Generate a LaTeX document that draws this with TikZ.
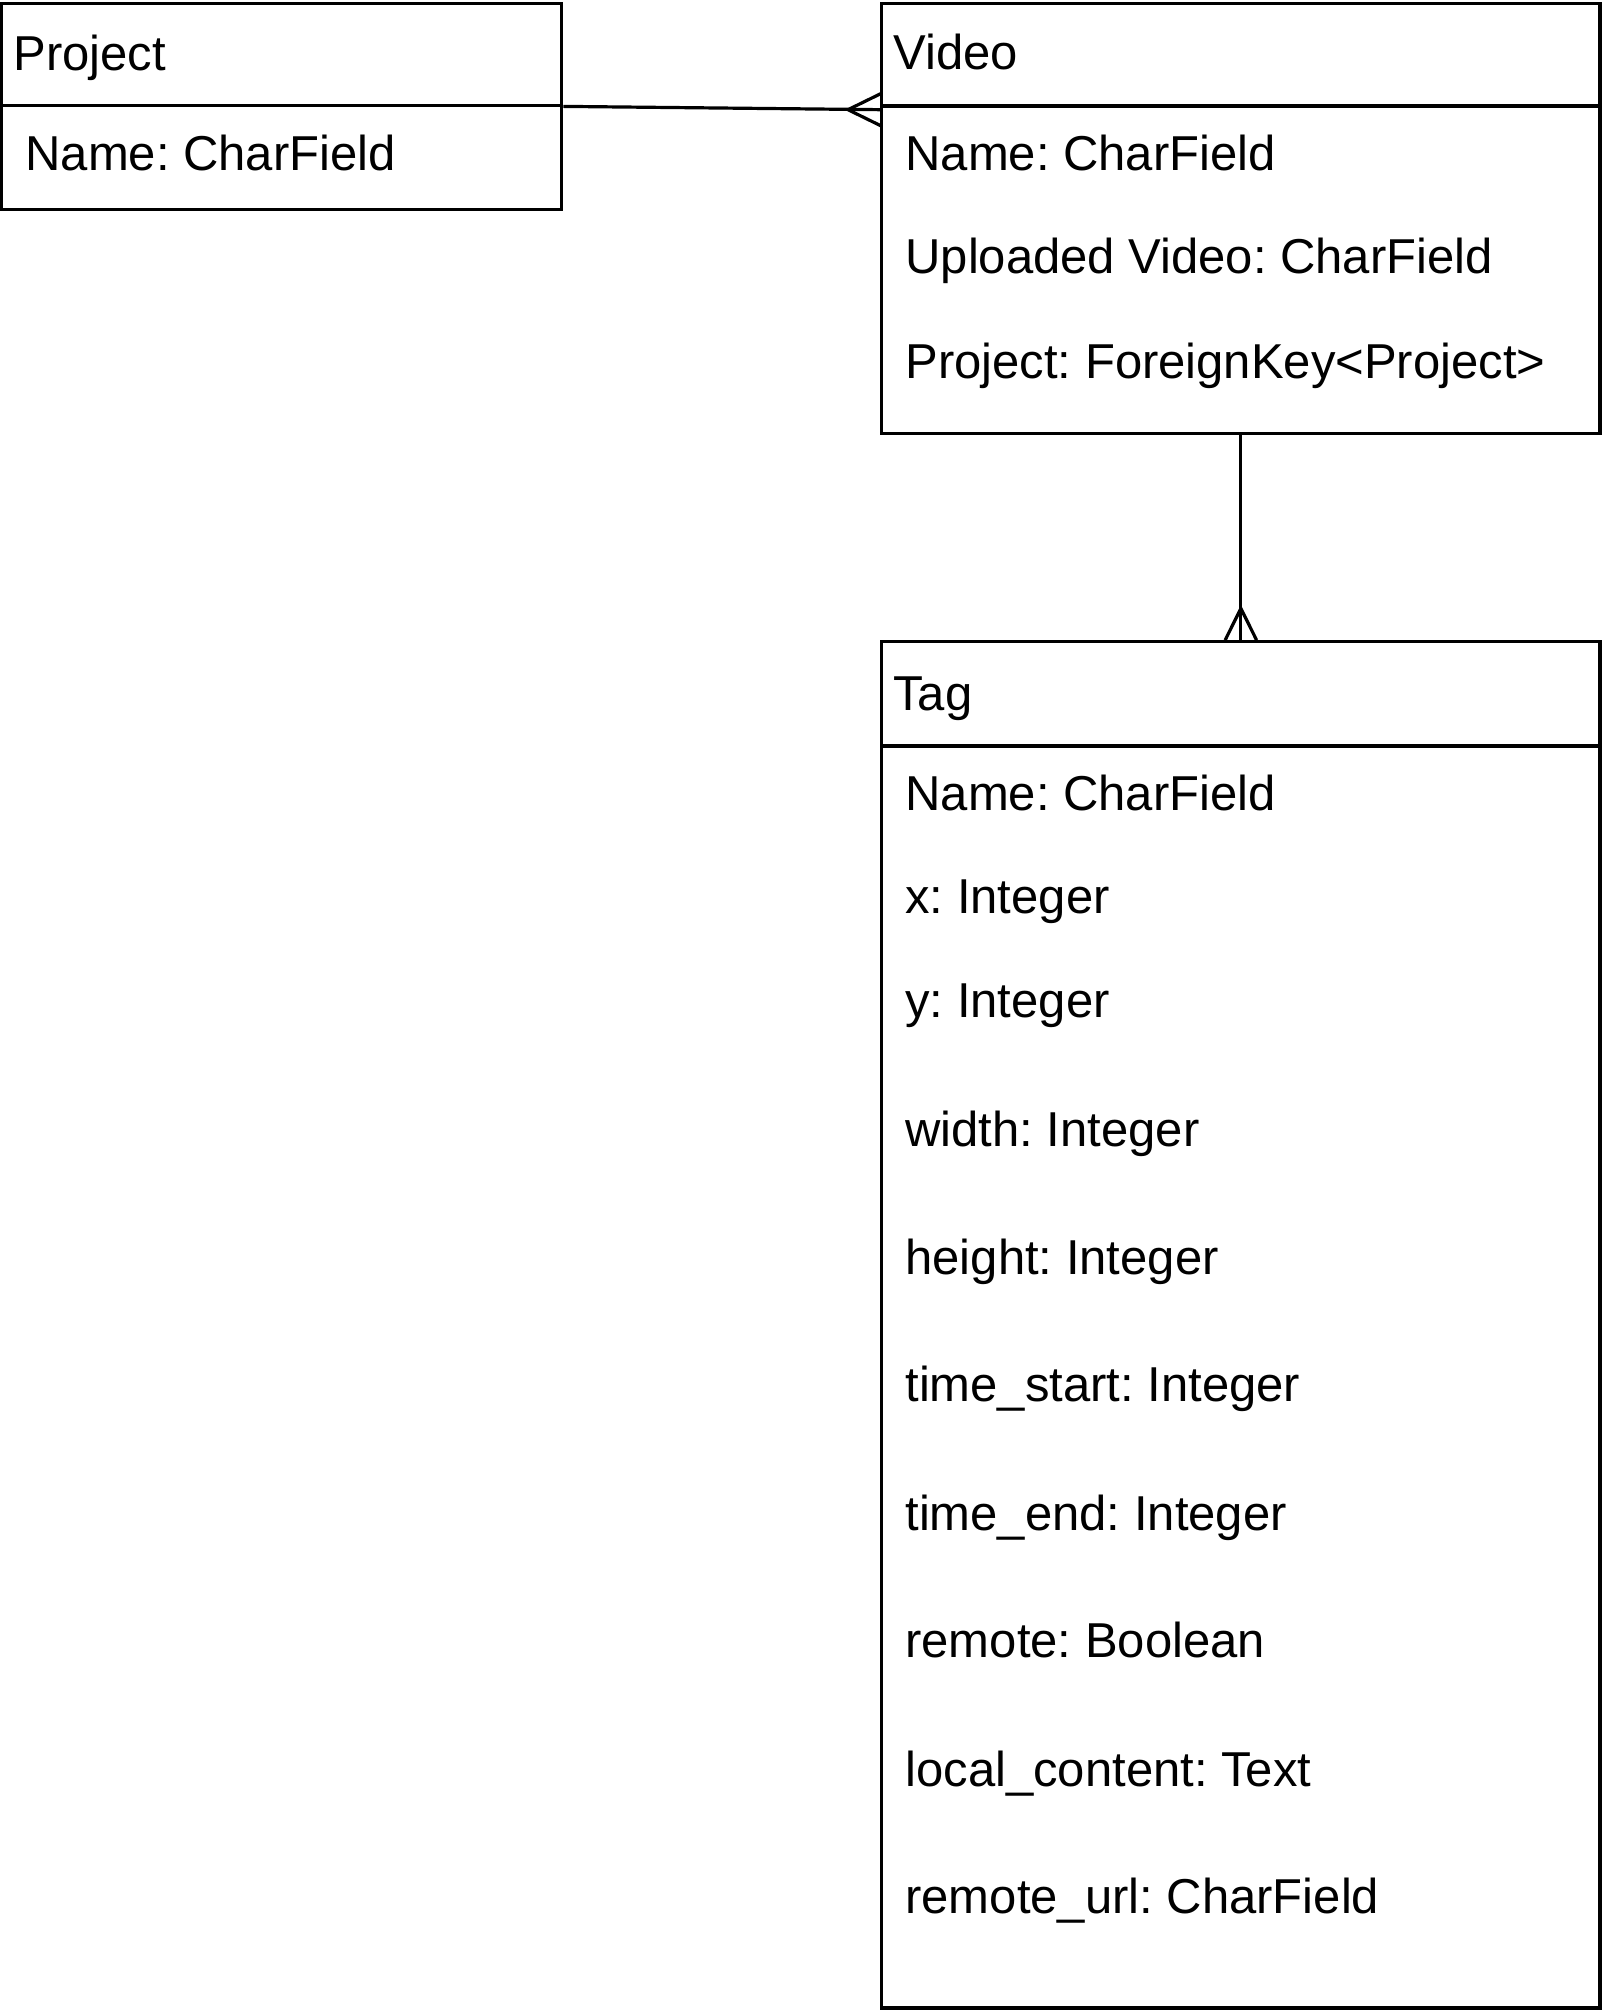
\documentclass[tikz,border=0pt]{standalone}
\usepackage{fontspec}
\setmainfont{Liberation Sans}
\usetikzlibrary{fit,calc}
\begin{document}
\frenchspacing
\begin{tikzpicture}[x=0.5pt,y=-0.5pt,
  box/.style={draw=black,line width=1.6pt,inner sep=0pt},
  conn/.style={draw=black,line width=1.6pt},
  divline/.style={draw=black,line width=1.6pt},
  lbl/.style={anchor=base west,inner sep=0pt,font=\fontsize{24.5pt}{29pt}\selectfont}]
\useasboundingbox (0,0) rectangle (1604,2016);
% boxes
\node[box,fit={(1.5,3.5) (561.7,209.3)}] (project) {};
\node[box,fit={(881.7,3.5) (1600,433.3)}] (video) {};
\node[box,fit={(881.7,641.7) (1600,2008)}] (tag) {};
% dividers
\draw[divline] (1.5,105.5) -- (561.7,105.5);
\draw[divline] (881.7,106) -- (1600,106);
\draw[divline] (881.7,746) -- (1600,746);
% texts
\node[lbl] (pt) at (13,71) {Project};
\node[lbl] (pf1) at (25,170.7) {Name: CharField};
\node[lbl] (vt) at (893,70) {Video};
\node[lbl] (vf1) at (905,170.7) {Name: CharField};
\node[lbl] (vf2) at (905,274) {Uploaded Video: CharField};
\node[lbl] (vf3) at (905,378.3) {Project: ForeignKey<Project>};
\node[lbl] (tt) at (893,710) {Tag};
\node[lbl] (tf1) at (905,810) {Name: CharField};
\node[lbl] (tf2) at (905,913.3) {x: Integer};
\node[lbl] (tf3) at (905,1017.7) {y: Integer};
\node[lbl] (tf4) at (905,1146) {width: Integer};
\node[lbl] (tf5) at (905,1274) {height: Integer};
\node[lbl] (tf6) at (905,1401.6) {time\_start: Integer};
\node[lbl] (tf7) at (905,1530) {time\_end: Integer};
\node[lbl] (tf8) at (905,1657) {remote: Boolean};
\node[lbl] (tf9) at (905,1786) {local\_content: Text};
\node[lbl] (tf10) at (905,1913) {remote\_url: CharField};
% connectors
\coordinate (vin) at (881.7,109.7);
\draw[conn] (project.east) -- (vin);
\draw[conn] ($(vin)+(0,-16.5)$) -- ($(vin)+(-33.7,0)$) -- ($(vin)+(0,16.5)$);
\draw[conn] (video.south) -- (tag.north);
\draw[conn] ($(tag.north)+(-15.7,0)$) -- ($(tag.north)+(0,-31.7)$) -- ($(tag.north)+(15.7,0)$);
\end{tikzpicture}
\end{document}
